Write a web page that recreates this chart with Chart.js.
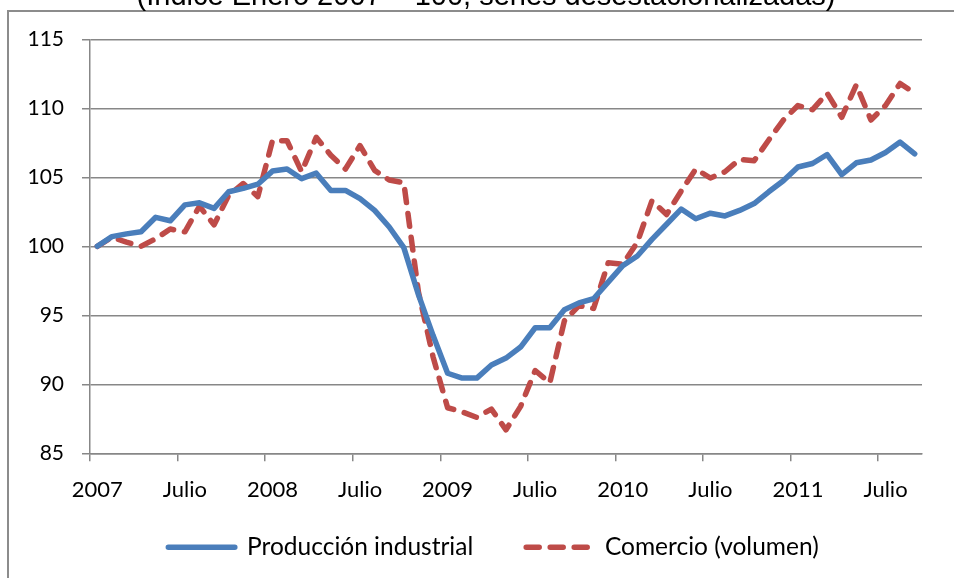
<!DOCTYPE html>
<html><head><meta charset="utf-8">
<script src="https://cdn.jsdelivr.net/npm/chart.js@4.4.1/dist/chart.umd.min.js"></script>
<style>html,body{margin:0;padding:0;background:#fff;overflow:hidden}#wrap{position:absolute;left:0;top:0;width:954px;height:578px}</style>
</head><body><div id="wrap"><canvas id="c" width="954" height="578"></canvas></div>
<script>
const chartTitle = '(Índice Enero 2007 = 100, series desestacionalizadas)';
const seriesNames = ['Producción industrial', 'Comercio (volumen)'];
const categories = [
 'Ene 2007','Feb 2007','Mar 2007','Abr 2007','May 2007','Jun 2007','Jul 2007','Ago 2007','Sep 2007','Oct 2007','Nov 2007','Dic 2007',
 'Ene 2008','Feb 2008','Mar 2008','Abr 2008','May 2008','Jun 2008','Jul 2008','Ago 2008','Sep 2008','Oct 2008','Nov 2008','Dic 2008',
 'Ene 2009','Feb 2009','Mar 2009','Abr 2009','May 2009','Jun 2009','Jul 2009','Ago 2009','Sep 2009','Oct 2009','Nov 2009','Dic 2009',
 'Ene 2010','Feb 2010','Mar 2010','Abr 2010','May 2010','Jun 2010','Jul 2010','Ago 2010','Sep 2010','Oct 2010','Nov 2010','Dic 2010',
 'Ene 2011','Feb 2011','Mar 2011','Abr 2011','May 2011','Jun 2011','Jul 2011','Ago 2011','Sep 2011'
];
const tickLabels = ['2007','Julio','2008','Julio','2009','Julio','2010','Julio','2011','Julio'];
const produccionIndustrial = [
 100.0,100.7,100.9,101.05,102.1,101.85,103.0,103.15,102.75,103.95,104.2,104.5,
 105.45,105.6,104.9,105.3,104.05,104.05,103.45,102.6,101.4,99.9,96.5,93.55,
 90.8,90.45,90.45,91.4,91.9,92.7,94.1,94.1,95.4,95.9,96.2,97.4,
 98.6,99.3,100.5,101.6,102.7,102.0,102.4,102.2,102.6,103.1,103.95,104.75,
 105.75,106.0,106.65,105.2,106.05,106.25,106.8,107.55,106.7
];
const comercioVolumen = [
 100.0,100.65,100.3,100.0,100.55,101.25,101.05,102.9,101.55,103.7,104.55,103.6,
 107.65,107.65,105.4,107.9,106.6,105.6,107.3,105.5,104.8,104.6,96.7,92.0,
 88.3,88.0,87.6,88.2,86.7,88.4,91.0,90.1,94.6,95.7,95.5,98.8,
 98.7,100.3,103.3,102.3,104.0,105.6,104.95,105.4,106.3,106.2,107.7,109.15,
 110.2,109.9,111.1,109.35,111.7,109.15,110.2,111.8,111.1
];

const GRID = '#878787';
const BLUE = '#4A7EBB';
const RED = '#BE4B48';

const frameTitlePlugin = {
  id: 'frameTitle',
  beforeDraw(chart) {
    const ctx = chart.ctx;
    ctx.save();
    ctx.fillStyle = '#fff';
    ctx.fillRect(0, 0, chart.width, chart.height);
    ctx.strokeStyle = '#8c8c8c';
    ctx.lineWidth = 2;
    ctx.beginPath();
    ctx.moveTo(8, chart.height);
    ctx.lineTo(8, 11);
    ctx.lineTo(chart.width, 11);
    ctx.stroke();
    ctx.font = '29px "Liberation Sans", Arial, sans-serif';
    ctx.fillStyle = '#000';
    ctx.textAlign = 'center';
    ctx.textBaseline = 'alphabetic';
    ctx.fillText(chartTitle, 486, 5);
    ctx.restore();
  }
};

const noLabelClip = (s) => { s._computeLabelArea = () => undefined; };

new Chart(document.getElementById('c'), {
  type: 'line',
  data: {
    labels: categories,
    datasets: [
      { label: seriesNames[0], data: produccionIndustrial, borderColor: BLUE, backgroundColor: 'rgba(0,0,0,0)',
        borderWidth: 5.5, borderCapStyle: 'round', borderJoinStyle: 'round', pointRadius: 0, tension: 0, fill: false },
      { label: seriesNames[1], data: comercioVolumen, borderColor: RED, backgroundColor: 'rgba(0,0,0,0)',
        borderWidth: 5.5, borderDash: [13, 11], borderCapStyle: 'round', borderJoinStyle: 'round', pointRadius: 0, tension: 0, fill: false }
    ]
  },
  options: {
    responsive: false,
    animation: false,
    devicePixelRatio: 1,
    layout: { padding: { left: 65, right: 32, top: 39.3, bottom: 8.5 } },
    plugins: {
      tooltip: { enabled: false },
      title: { display: false },
      legend: {
        position: 'bottom',
        labels: {
          boxWidth: 66.5, boxHeight: 0, padding: 53, color: '#000',
          font: { family: 'Lato', size: 24.5 },
          generateLabels(chart) {
            const items = Chart.defaults.plugins.legend.labels.generateLabels(chart);
            items.forEach(it => { it.fillStyle = 'rgba(0,0,0,0)'; it.lineWidth = 5.5; });
            return items;
          }
        }
      }
    },
    scales: {
      x: {
        type: 'category',
        offset: true,
        grid: {
          offset: true, drawOnChartArea: false, drawTicks: true, tickLength: 8, lineWidth: 1.5, color: GRID,
          tickColor: (c) => (c.index !== undefined && c.index % 6 === 0) ? GRID : 'rgba(0,0,0,0)'
        },
        border: { display: true, color: GRID, width: 1.5 },
        ticks: {
          autoSkip: false, maxRotation: 0, minRotation: 0, padding: 15, color: '#000',
          font: { family: 'Lato', size: 22 },
          callback: (v, i) => (i % 6 === 0 ? tickLabels[i / 6] : '')
        },
        afterFit: (s) => { s.height = 28.7; noLabelClip(s); }
      },
      y: {
        min: 85, max: 115,
        ticks: { stepSize: 5, padding: 18, color: '#000', font: { family: 'Lato', size: 21 } },
        grid: { color: GRID, lineWidth: 1.5, tickLength: 8, tickColor: GRID },
        border: { color: GRID, width: 1.5 },
        afterFit: (s) => { s.width = 25; noLabelClip(s); }
      }
    }
  },
  plugins: [frameTitlePlugin]
});
</script>
</body></html>
